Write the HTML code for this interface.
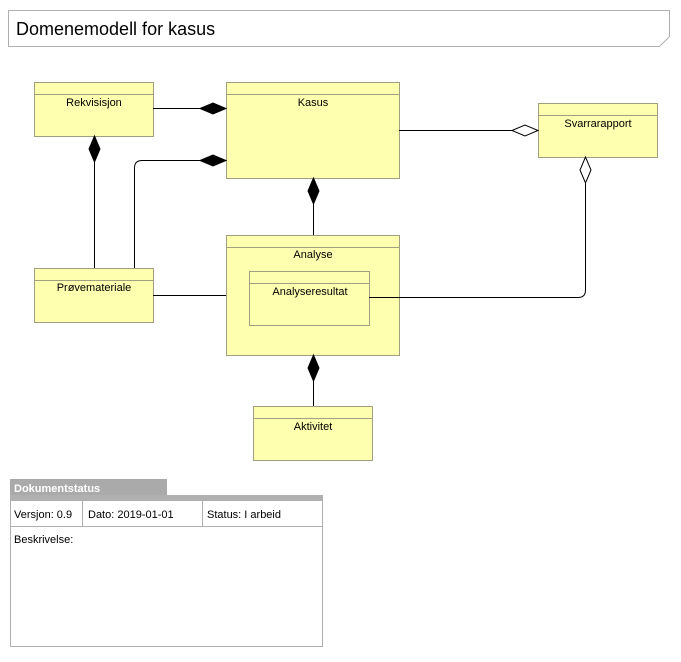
<!DOCTYPE html>
<html><head><meta charset="utf-8"><style>
body{margin:0;width:681px;height:657px;background:#fff;overflow:hidden;font-family:"Liberation Sans",sans-serif}
</style></head><body>
<svg width="681" height="657" xmlns="http://www.w3.org/2000/svg" font-family="Liberation Sans, sans-serif">
<path d="M8.5 10.5H669.5V36.5L659.5 46.5H8.5Z" fill="#fff" stroke="#b0b0b0"/>
<text x="16" y="35" font-size="18" fill="#000">Domenemodell for kasus</text>
<g fill="#ffffb0" stroke="#a0a080">
<rect x="34.5" y="82.5" width="119" height="54"/><line x1="34.5" y1="94.5" x2="153.5" y2="94.5"/>
<rect x="226.5" y="82.5" width="173" height="96"/><line x1="226.5" y1="94.5" x2="399.5" y2="94.5"/>
<rect x="538.5" y="103.5" width="119" height="54"/><line x1="538.5" y1="115.5" x2="657.5" y2="115.5"/>
<rect x="34.5" y="268.5" width="119" height="54"/><line x1="34.5" y1="280.5" x2="153.5" y2="280.5"/>
<rect x="226.5" y="235.5" width="173" height="120"/><line x1="226.5" y1="247.5" x2="399.5" y2="247.5"/>
<rect x="249.5" y="271.5" width="120" height="54"/><line x1="249.5" y1="283.5" x2="369.5" y2="283.5"/>
<rect x="253.5" y="406.5" width="119" height="54"/><line x1="253.5" y1="418.5" x2="372.5" y2="418.5"/>
</g>
<g font-size="11" text-anchor="middle" fill="#000">
<text x="94" y="106">Rekvisisjon</text>
<text x="313" y="106">Kasus</text>
<text x="598" y="127">Svarrarapport</text>
<text x="94" y="291">Prøvemateriale</text>
<text x="313" y="258">Analyse</text>
<text x="310" y="295">Analyseresultat</text>
<text x="313" y="430">Aktivitet</text>
</g>
<g stroke="#000" fill="none" stroke-width="1">
<path d="M153 108.5H200"/>
<path d="M399 130.5H512"/>
<path d="M94.5 162V268"/>
<path d="M134.5 268V168Q134.5 160.5 142 160.5H200"/>
<path d="M313.5 204V235"/>
<path d="M153 295.5H226"/>
<path d="M369 297.5H578Q585.5 297.5 585.5 290V183"/>
<path d="M313.5 381V406"/>
</g>
<g fill="#000" stroke="#000">
<path d="M200 108.5L213 103L226 108.5L213 114Z"/>
<path d="M200 160.5L213 155L226 160.5L213 166Z"/>
<path d="M94.5 136L89 149L94.5 162L100 149Z"/>
<path d="M313.5 178L308 191L313.5 204L319 191Z"/>
<path d="M313.5 355L308 368L313.5 381L319 368Z"/>
</g>
<g fill="#fff" stroke="#000">
<path d="M512 130.5L525 125L538 130.5L525 136Z"/>
<path d="M585.5 157L580 170L585.5 183L591 170Z"/>
</g>
<rect x="10" y="479" width="157" height="17" fill="#aaaaaa"/>
<text x="14" y="492" font-size="11" font-weight="bold" fill="#fff">Dokumentstatus</text>
<rect x="10.5" y="495.5" width="312" height="151" fill="#fff" stroke="#b0b0b0"/>
<rect x="11" y="496" width="311" height="5" fill="#b0b0b0"/>
<g stroke="#b0b0b0"><line x1="10" y1="526.5" x2="322" y2="526.5"/><line x1="82.5" y1="501" x2="82.5" y2="526"/><line x1="202.5" y1="501" x2="202.5" y2="526"/></g>
<g font-size="11" fill="#000">
<text x="14" y="518">Versjon: 0.9</text>
<text x="88" y="518">Dato: 2019-01-01</text>
<text x="207" y="518">Status: I arbeid</text>
<text x="14" y="543">Beskrivelse:</text>
</g>
</svg>
</body></html>
